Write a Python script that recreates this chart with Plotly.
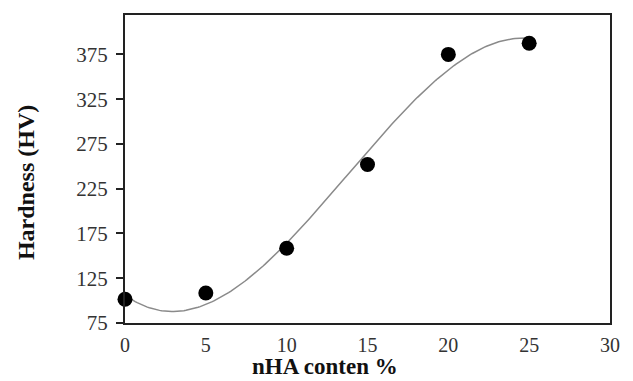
import numpy as np
import plotly.graph_objects as go

nha_content = [0, 5, 10, 15, 20, 25]
hardness = [101.5, 108.5, 158.5, 252, 375, 387.5]
x_ticks = [0, 5, 10, 15, 20, 25, 30]
y_ticks = [75, 125, 175, 225, 275, 325, 375]
x_title = "nHA conten %"
y_title = "Hardness (HV)"

# cubic polynomial trendline fitted to the data
coef = np.polyfit(nha_content, hardness, 3)
xf = np.linspace(0, 25, 200)
yf = np.polyval(coef, xf)

fig = go.Figure()
fig.add_trace(go.Scatter(x=xf, y=yf, mode="lines",
                         line=dict(color="#8a8a8a", width=1.5), showlegend=False, hoverinfo="skip"))
fig.add_trace(go.Scatter(x=nha_content, y=hardness, mode="markers",
                         marker=dict(color="black", size=15), showlegend=False, cliponaxis=False))

font = "Liberation Serif, Times New Roman, serif"
fig.update_layout(
    width=633, height=381,
    margin=dict(l=125, r=23, t=15, b=58),
    plot_bgcolor="white", paper_bgcolor="white",
    font=dict(family=font, color="#222", size=20),
    xaxis=dict(range=[0, 30], tickvals=x_ticks, ticks="", showgrid=False, zeroline=False,
               showline=True, linecolor="#222", linewidth=2, mirror=True, automargin=False,
               tickfont=dict(size=20, color="#333"), ticklabelstandoff=3),
    yaxis=dict(range=[75, 419], tickvals=y_ticks, ticks="outside", ticklen=7, tickwidth=1.5,
               tickcolor="#222", showgrid=False, zeroline=False, automargin=False,
               showline=True, linecolor="#222", linewidth=2, mirror=True,
               tickfont=dict(size=21, color="#333"), ticklabelstandoff=4),
    annotations=[
        dict(text=f"<b>{x_title}</b>", xref="paper", yref="paper", x=0.412, y=-0.1865,
             xanchor="center", yanchor="bottom", showarrow=False, borderpad=0,
             font=dict(size=23, color="#111", family=font)),
        dict(text=f"<b>{y_title}</b>", xref="paper", yref="paper", x=-0.204, y=0.4545,
             xanchor="center", yanchor="middle", showarrow=False, textangle=-90,
             font=dict(size=24, color="#111", family=font)),
    ],
)
fig.write_html("out.html")
